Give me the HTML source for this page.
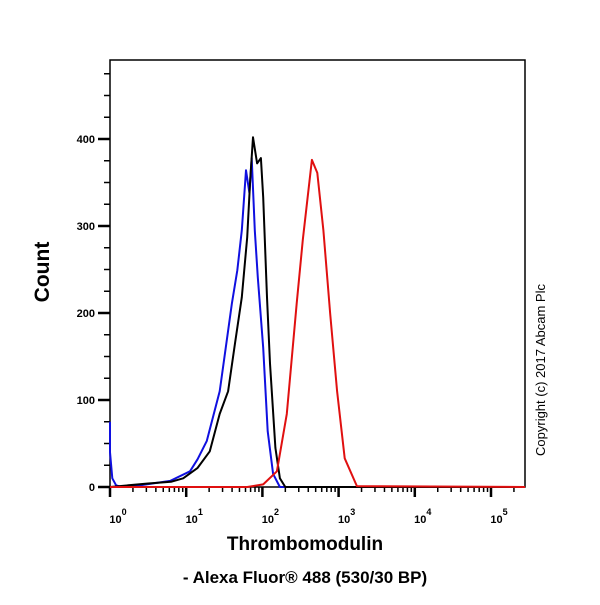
<!DOCTYPE html>
<html><head><meta charset="utf-8"><style>
body{margin:0;background:#fff;width:600px;height:600px;overflow:hidden}
svg text{font-family:"Liberation Sans",Arial,sans-serif}
</style></head><body>
<svg id="c" width="600" height="600" viewBox="0 0 600 600" xmlns="http://www.w3.org/2000/svg">
<rect x="0" y="0" width="600" height="600" fill="#fff"/>
<g id="plot"></g>
<text transform="translate(49,272) rotate(-90)" text-anchor="middle" font-size="21" font-weight="bold">Count</text>
<text x="305" y="550" text-anchor="middle" font-size="19" font-weight="bold">Thrombomodulin</text>
<text x="305" y="583" text-anchor="middle" font-size="17" font-weight="bold">- Alexa Fluor® 488 (530/30 BP)</text>
<text transform="translate(545,370) rotate(-90)" text-anchor="middle" font-size="13">Copyright (c) 2017 Abcam Plc</text>
</svg>
<script>
const yTicks=[0,100,200,300,400];
const xDecades=[0,1,2,3,4,5];
const blackLog=[0.0,0.5,0.8,0.96,1.15,1.31,1.44,1.55,1.64,1.73,1.80,1.84,1.877,1.93,1.98,2.01,2.06,2.10,2.17,2.23,2.30,5.45];
const blackCnt=[0,4,6,10,22,41,84,110,165,218,287,353,402,372,378,333,218,142,45,10,0,0];
const blueLog=[-0.03,0.0,0.03,0.08,0.15,0.4,0.79,1.05,1.15,1.27,1.44,1.60,1.67,1.73,1.785,1.83,1.86,1.90,1.94,2.01,2.07,2.14,2.23,5.45];
const blueCnt=[75,40,10,2,0,2,7,18,32,53,110,211,249,295,364,338,378,295,241,160,64,15,0,0];
const redLog=[-0.03,1.8,2.01,2.19,2.32,2.45,2.53,2.65,2.72,2.80,2.89,2.98,3.08,3.24,5.45];
const redCnt=[0,0,3,18,84,211,284,376,361,295,199,110,33,1,0];
const L=110,R=525,T=60,B=487;
const x=v=>L+76.2*v;
const y=c=>B-0.87*c;
const NS="http://www.w3.org/2000/svg";
const g=document.getElementById('plot');
function mk(t,a){const e=document.createElementNS(NS,t);for(const k in a)e.setAttribute(k,a[k]);g.appendChild(e);return e;}
const fr=mk('rect',{x:L,y:T,width:R-L,height:B-T,fill:'none',stroke:'#000','stroke-width':1.5});


for(let c=0;c*0.87<=B-T;c+=25){
  const major=c%100===0;
  const t=mk('line',{x1:major?L-12:L-6,x2:L,y1:y(c),y2:y(c),stroke:'#000','stroke-width':major?2.5:1.5});
  
  
}
yTicks.forEach(v=>{
  const t=mk('text',{x:L-15,y:y(v)+4,'text-anchor':'end','font-size':11,'font-weight':'bold'});
  t.textContent=v;
  
  
});
xDecades.forEach(d=>{
  const t=mk('line',{x1:x(d),x2:x(d),y1:B,y2:B+10,stroke:'#000','stroke-width':2.5});
  
  
  for(let m=2;m<10;m++){
    const px=x(d+Math.log10(m));
    if(px>R)break;
    const mt=mk('line',{x1:px,x2:px,y1:B,y2:B+5,stroke:'#000','stroke-width':1.5});
    
    
  }
  const lb=mk('text',{x:x(d)+8,y:B+36,'text-anchor':'middle','font-size':11,'font-weight':'bold'});
  lb.innerHTML='10<tspan dy="-8" font-size="9">'+d+'</tspan>';
  
  
});
function series(xs,cs,color,name){
  const d=xs.map((v,i)=>(i?'L':'M')+Math.max(L,Math.min(R,x(v))).toFixed(1)+','+y(cs[i]).toFixed(1)).join(' ');
  const p=mk('path',{d:d,fill:'none',stroke:color,'stroke-width':2,'stroke-linejoin':'round'});
  
  
}
series(blueLog,blueCnt,'#1010e0','blue-histogram');
series(blackLog,blackCnt,'#000','black-histogram');
series(redLog,redCnt,'#e01010','red-histogram');
</script>
</body></html>
